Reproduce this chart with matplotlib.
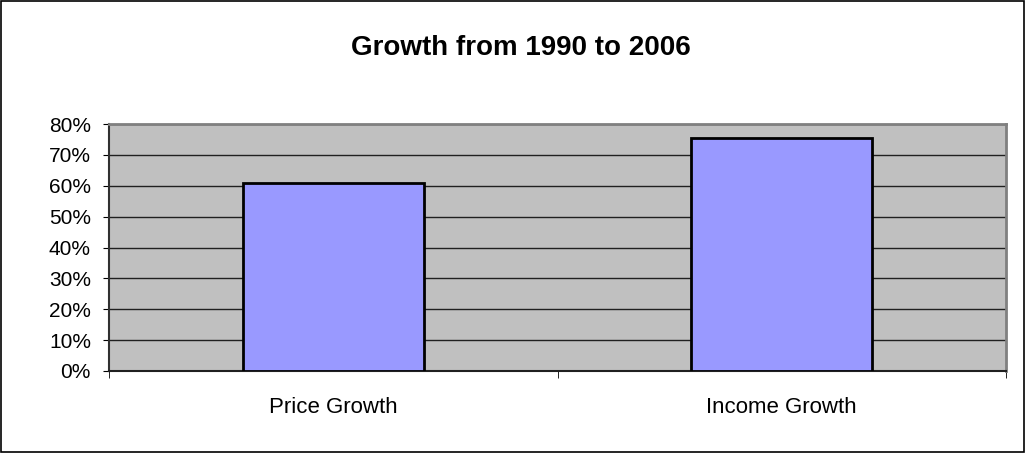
import matplotlib
matplotlib.use('Agg')
from matplotlib import pyplot as plt
from matplotlib.ticker import PercentFormatter, FixedLocator, NullFormatter
from matplotlib.patches import Rectangle

categories = ['Price Growth', 'Income Growth']
growth = [61, 75.5]
y_ticks = [0, 10, 20, 30, 40, 50, 60, 70, 80]

plt.rcParams['font.family'] = ['Liberation Sans', 'DejaVu Sans']

fig = plt.figure(figsize=(10.26, 4.53), dpi=100)
fig.patch.set_facecolor('white')
fig.patches.append(Rectangle((0.001, 0.002), 0.997, 0.996, transform=fig.transFigure,
                             fill=False, edgecolor='black', linewidth=1.2))

ax = fig.add_axes([109 / 1026, (453 - 371) / 453, (1006 - 109) / 1026, (371 - 124) / 453])
ax.set_facecolor('#c0c0c0')
ax.set_xlim(-0.5, len(categories) - 0.5)
ax.set_ylim(0, 80)

ax.set_yticks(y_ticks)
ax.yaxis.set_major_formatter(PercentFormatter(decimals=0))
ax.grid(axis='y', color='#202020', linewidth=1)
ax.set_axisbelow(True)

x = list(range(len(categories)))
ax.bar(x, growth, width=0.403, color='#9999ff', edgecolor='black', linewidth=2, zorder=3)

ax.set_xticks(x)
ax.set_xticklabels(categories, fontsize=16)
ax.tick_params(axis='x', which='major', length=0, pad=19)
ax.xaxis.set_minor_locator(FixedLocator([-0.5, 0.5, 1.5]))
ax.xaxis.set_minor_formatter(NullFormatter())
ax.tick_params(axis='x', which='minor', length=5, color='black', direction='out')
ax.tick_params(axis='y', length=4.5, labelsize=15, color='black', pad=8.5)

for side in ['top', 'right']:
    ax.spines[side].set_color('#808080')
    ax.spines[side].set_linewidth(2)
ax.spines['left'].set_color('#303030')
ax.spines['left'].set_linewidth(1.5)
ax.spines['bottom'].set_color('#202020')
ax.spines['bottom'].set_linewidth(1.5)

fig.text(521 / 1026, 1 - 48 / 453, 'Growth from 1990 to 2006', ha='center', va='center',
         fontsize=20, fontweight='bold')

fig.savefig('out.png', dpi=100)
